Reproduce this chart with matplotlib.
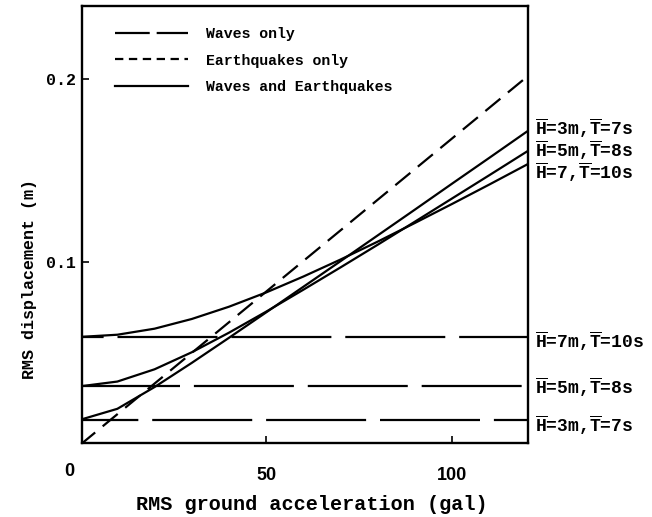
import matplotlib
matplotlib.use("Agg")
import matplotlib.pyplot as plt
from matplotlib.lines import Line2D

plt.rcParams['lines.scale_dashes'] = False
plt.rcParams['mathtext.fontset'] = 'custom'
plt.rcParams['mathtext.rm'] = 'Liberation Mono:bold'
plt.rcParams['mathtext.bf'] = 'Liberation Mono:bold'

# ground acceleration (gal)
accel = [0, 10, 20, 30, 40, 50, 60, 70, 80, 90, 100, 110, 120]

# waves only (constant with acceleration)
wave_levels = [0.0137, 0.032, 0.059]
wave_labels = [r"$\overline{\rm H}$=3m,$\overline{\rm T}$=7s",
               r"$\overline{\rm H}$=5m,$\overline{\rm T}$=8s",
               r"$\overline{\rm H}$=7m,$\overline{\rm T}$=10s"]
wave_label_shift = [-4, -1, -3]

# earthquakes only
eq_x = [0, 120]
eq_y = [0.0, 0.201]

# waves and earthquakes
comb_h3 = [0.0137, 0.0197, 0.0316, 0.0448, 0.0585, 0.0724, 0.0864, 0.1004,
           0.1145, 0.1286, 0.1428, 0.1569, 0.1711]
comb_h5 = [0.032, 0.0346, 0.0413, 0.0506, 0.0613, 0.0728, 0.0848, 0.0970,
           0.1094, 0.1220, 0.1347, 0.1474, 0.1602]
comb_h7 = [0.059, 0.0602, 0.0635, 0.0688, 0.0755, 0.0833, 0.0920, 0.1013,
           0.1111, 0.1213, 0.1317, 0.1423, 0.1531]
comb_labels = [r"$\overline{\rm H}$=3m,$\overline{\rm T}$=7s",
               r"$\overline{\rm H}$=5m,$\overline{\rm T}$=8s",
               r"$\overline{\rm H}$=7,$\overline{\rm T}$=10s"]
comb_label_y = [0.173, 0.161, 0.149]

mono = ['Liberation Mono', 'DejaVu Sans Mono']
sans = ['Liberation Sans', 'DejaVu Sans']

fig = plt.figure(figsize=(6.52, 5.17), dpi=100)
ax = fig.add_axes([0.1258, 0.1431, 0.684, 0.8453])

lw = 1.6
eq_dash = (14, 7)
wave_offsets = [30, 0, 55]

for lvl, off in zip(wave_levels, wave_offsets):
    ax.plot([0, 121], [lvl, lvl], color='black', lw=lw,
            dashes=(off, (72, 10)) if False else (72, 10))
ax.plot(eq_x, eq_y, color='black', lw=lw, dashes=eq_dash)
for ys in (comb_h3, comb_h5, comb_h7):
    ax.plot(accel, ys, color='black', lw=lw)

# stagger the gaps of the long-dash lines
for ln, off in zip(ax.lines[:3], wave_offsets):
    ln.set_linestyle((off, (72, 10)))

ax.set_xlim(0.5, 120.4)
ax.set_ylim(0.001, 0.2399)
for s in ax.spines.values():
    s.set_linewidth(1.7)

ax.set_xticks([50, 100])
ax.set_xticklabels(['50', '100'], family=sans, fontsize=13, fontweight='bold')
ax.set_yticks([0.1, 0.2])
ax.set_yticklabels(['0.1', '0.2'], family=mono, fontsize=12, fontweight='bold')
ax.tick_params(direction='in', length=5, width=1.2)
ax.tick_params(axis='x', pad=17)
ax.tick_params(axis='y', pad=4)

fig.text(69 / 652, 1 - 472 / 517, '0', family=sans, fontsize=13,
         fontweight='bold', ha='center', va='center')
fig.text(312 / 652, 1 - 505 / 517, 'RMS ground acceleration (gal)',
         family=mono, fontsize=14.5, fontweight='bold', ha='center',
         va='center')
fig.text(30 / 652, 1 - 279 / 517, 'RMS displacement (m)', family=mono,
         fontsize=12, fontweight='bold', rotation=90, ha='center', va='center')

# right-hand labels
for lvl, lab, dy in zip(wave_levels, wave_labels, wave_label_shift):
    ax.annotate(lab, xy=(1.0, lvl), xycoords=('axes fraction', 'data'),
                xytext=(5, dy), textcoords='offset points', va='center',
                ha='left', family=mono, fontsize=13, fontweight='bold',
                annotation_clip=False)
for yl, lab in zip(comb_label_y, comb_labels):
    ax.annotate(lab, xy=(1.0, yl), xycoords=('axes fraction', 'data'),
                xytext=(5, 0), textcoords='offset points', va='center',
                ha='left', family=mono, fontsize=13, fontweight='bold',
                annotation_clip=False)

handles = [
    Line2D([], [], color='black', lw=lw, dashes=(25, 5)),
    Line2D([], [], color='black', lw=lw, dashes=(6, 4)),
    Line2D([], [], color='black', lw=lw),
]
names = ['Waves only', 'Earthquakes only', 'Waves and Earthquakes']
ax.legend(handles, names, loc='upper left', bbox_to_anchor=(0.074, 0.952),
          frameon=False, borderpad=0, borderaxespad=0, handlelength=4.9,
          handletextpad=1.2, labelspacing=0.85,
          prop={'family': mono, 'size': 10.7, 'weight': 'bold'})

fig.savefig('out.png', dpi=100)
